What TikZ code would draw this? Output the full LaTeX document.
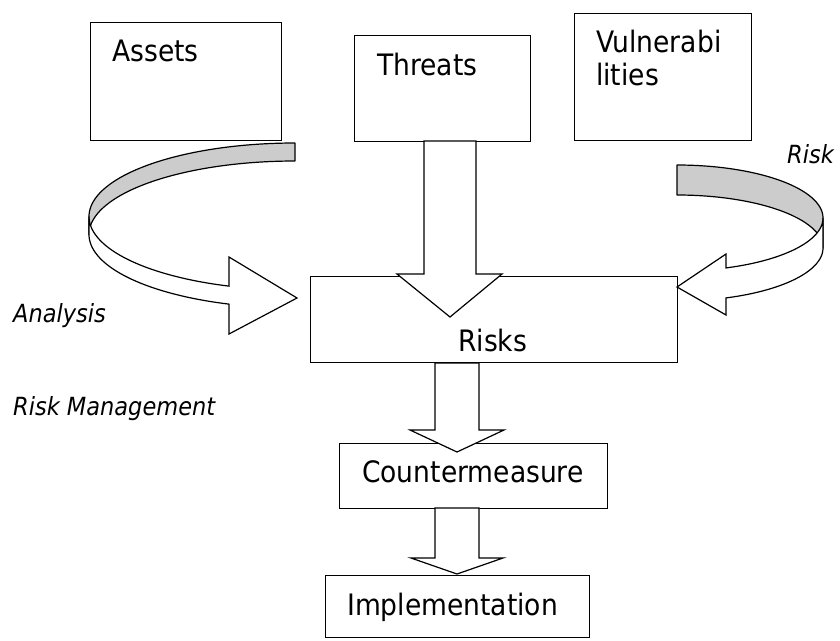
\documentclass[tikz,border=0pt]{standalone}
\usepackage{fontspec}
\setmainfont{DejaVu Sans}[FakeStretch=0.9]
\definecolor{bandgray}{RGB}{204,204,204}
\newcommand{\boxfont}{\fontsize{29.5}{33}\selectfont}
\newcommand{\notefont}{\fontsize{25}{30}\selectfont\itshape}
\tikzset{
  box/.style={draw, line width=1.2pt, rectangle, inner sep=0pt, anchor=north west},
  lbl/.style={inner sep=0pt, anchor=base west, font=\boxfont},
  note/.style={inner sep=0pt, anchor=base west, font=\notefont},
  blockarrow/.style={draw, fill=white, line width=1.2pt, line join=miter},
  band/.style={draw, fill=bandgray, line width=1.2pt, line join=round},
  front/.style={draw, fill=white, line width=1.2pt, line join=miter},
}
\begin{document}
\begin{tikzpicture}[x=1pt, y=-1pt]
\useasboundingbox (0,0) rectangle (840,640);

% boxes
\node[box, minimum width=191pt, minimum height=118pt] (assets) at (90,22) {};
\node[box, minimum width=176pt, minimum height=106pt] (threats) at (354,35) {};
\node[box, minimum width=177pt, minimum height=127pt] (vuln) at (574,13) {};
\node[box, minimum width=367pt, minimum height=86pt] (risks) at (310,276) {};
\node[box, minimum width=268pt, minimum height=65pt] (counter) at (339,443) {};
\node[box, minimum width=264pt, minimum height=62pt] (impl) at (325,575) {};

% box texts
\node[lbl] (assetsT) at (112,61) {Assets};
\node[lbl] (threatsT) at (377,75) {Threats};
\node[lbl] (vulnA) at (596,52) {Vulnerabi};
\node[lbl] (vulnB) at (596,85) {lities};
\node[lbl] (risksT) at (458,351) {Risks};
\node[lbl] (counterT) at (362,482) {Countermeasure};
\node[lbl] (implT) at (347,615) {Implementation};

% side notes
\node[note] (riskR) at (787,163) {Risk};
\node[note] (analysis) at (13,322) {Analysis};
\node[note] (riskmgmt) at (13,415) {Risk Management};

% straight block arrows
\path[blockarrow] (424,141) -- (424,274) -- (397,274) -- (450,317) -- (502,274)
  -- (476,274) -- (476,141) -- cycle;
\path[blockarrow] (435,363) -- (435,430) -- (410,430) -- (457,452) -- (504,430)
  -- (479,430) -- (479,363) -- cycle;
\path[blockarrow] (435,508) -- (435,558) -- (411,558) -- (457,574) -- (503,558)
  -- (479,558) -- (479,508) -- cycle;

% left curved arrow: back of the ribbon
\path[band] plot[domain=270:180, samples=60] ({295+206*cos(\x)}, {216.5+73.5*sin(\x)})
  -- plot[domain=180:270, samples=60] ({295+206*cos(\x)}, {234.5+73.5*sin(\x)}) -- cycle;
% left curved arrow: front of the ribbon with head
\path[front] plot[domain=180:108.7, samples=60] ({295+206*cos(\x)}, {216.5+73.5*sin(\x)})
  -- (229,257) -- (297,298) -- (229,334)
  -- plot[domain=108.7:180, samples=60] ({295+206*cos(\x)}, {234.5+73.5*sin(\x)}) -- cycle;

% right curved arrow: back of the ribbon
\path[band] plot[domain=270:360, samples=60] ({677+146*cos(\x)}, {218+53*sin(\x)})
  -- plot[domain=360:270, samples=60] ({677+146*cos(\x)}, {248+53*sin(\x)}) -- cycle;
% right curved arrow: front of the ribbon with head
\path[front] plot[domain=0:70.4, samples=60] ({677+146*cos(\x)}, {218+53*sin(\x)})
  -- (726,254) -- (677,287) -- (726,315)
  -- plot[domain=70.4:0, samples=60] ({677+146*cos(\x)}, {248+53*sin(\x)}) -- cycle;
\end{tikzpicture}
\end{document}
